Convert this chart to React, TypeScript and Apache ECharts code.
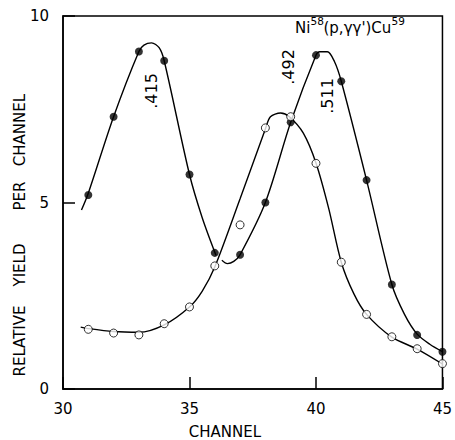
import React, { useEffect, useRef } from "react";
import * as echarts from "echarts";

// Measured points (channel, relative yield)
const filledPoints: [number, number][] = [
  [31, 5.2], [32, 7.3], [33, 9.05], [34, 8.8], [35, 5.75], [36, 3.65], [37, 3.6],
  [38, 5.0], [39, 7.15], [40, 8.95], [41, 8.25], [42, 5.6], [43, 2.8], [44, 1.45], [45, 1.0],
];
const openPoints: [number, number][] = [
  [31, 1.6], [32, 1.5], [33, 1.45], [34, 1.75], [35, 2.2], [36, 3.3], [37, 4.4],
  [38, 7.0], [39, 7.3], [40, 6.05], [41, 3.4], [42, 2.0], [43, 1.4], [44, 1.08], [45, 0.68],
];

// Hand-drawn fitted curves
const filledCurveA: [number, number][] = [
  [30.73, 4.8], [31, 5.25], [32, 7.3], [33, 9.05], [33.2, 9.22], [33.5, 9.28], [33.8, 9.15],
  [34, 8.8], [35, 5.75], [35.5, 4.6], [36.05, 3.58],
];
const filledCurveB: [number, number][] = [
  [36.28, 3.45], [36.5, 3.36], [36.75, 3.42], [37, 3.6], [38, 5.0], [39, 7.15], [40, 8.95],
  [40.15, 9.04], [40.45, 9.04], [40.73, 8.78], [41, 8.25], [42, 5.6], [43, 2.8], [43.5, 2.0],
  [44, 1.47], [44.5, 1.2], [45, 1.0],
];
const openCurve: [number, number][] = [
  [30.7, 1.66], [31, 1.62], [32, 1.54], [33, 1.52], [34, 1.72], [35, 2.2], [35.5, 2.62],
  [36, 3.27], [37, 5.1], [38, 6.97], [38.2, 7.3], [38.6, 7.4], [38.95, 7.3], [39.5, 6.86],
  [40, 6.06], [40.5, 4.85], [41, 3.4], [41.5, 2.55], [42, 2.0], [43, 1.39], [44, 1.07], [45, 0.67],
];

const xTicks = [30, 35, 40, 45];
const yTicks = [0, 5, 10];
const peakLabels = [".415", ".492", ".511"];
const yLabelWords = ["RELATIVE", "YIELD", "PER", "CHANNEL"];
const xLabel = "CHANNEL";

const FONT = "DejaVu Sans";

export default function App() {
  const ref = useRef<HTMLDivElement>(null);
  useEffect(() => {
    if (!ref.current) return;
    const chart = echarts.init(ref.current, null, { renderer: "svg" });
    const lineStyle = { color: "#000", width: 1.4 };
    const txt = (text: string, x: number, y: number, size: number, rot = 0, align = "center") => ({
      type: "text",
      x,
      y,
      rotation: rot,
      style: {
        text,
        fill: "#000",
        font: `${size}px "${FONT}"`,
        align,
        verticalAlign: "middle",
      },
    });
    const R = Math.PI / 2;
    chart.setOption({
      animation: false,
      backgroundColor: "#fff",
      grid: {
        left: 63,
        right: 10,
        top: 16,
        bottom: 51,
        show: true,
        borderColor: "#000",
        borderWidth: 1.5,
      },
      xAxis: {
        type: "value",
        min: xTicks[0],
        max: xTicks[xTicks.length - 1],
        interval: 5,
        axisLine: { lineStyle: { color: "#000", width: 1.5 } },
        axisTick: { inside: true, length: 12, lineStyle: { color: "#000", width: 1.5 } },
        axisLabel: { color: "#000", fontFamily: FONT, fontSize: 15, margin: 12 },
        splitLine: { show: false },
      },
      yAxis: {
        type: "value",
        min: yTicks[0],
        max: yTicks[yTicks.length - 1],
        interval: 5,
        axisLine: { lineStyle: { color: "#000", width: 1.5 } },
        axisTick: { inside: true, length: 12, lineStyle: { color: "#000", width: 1.5 } },
        axisLabel: { color: "#000", fontFamily: FONT, fontSize: 15, margin: 14 },
        splitLine: { show: false },
      },
      graphic: [
        txt(yLabelWords[0], 20, 341, 15, R),
        txt(yLabelWords[1], 20, 265, 15, R),
        txt(yLabelWords[2], 20, 196, 15, R),
        txt(yLabelWords[3], 20, 130, 15, R),
        txt(xLabel, 225, 432, 15),
        txt(peakLabels[0], 151, 91, 16, R),
        txt(peakLabels[1], 288, 67, 16, R),
        txt(peakLabels[2], 327, 96, 16, R),
        txt("Ni", 295, 28, 15, 0, "left"),
        txt("58", 310.5, 21, 10.5, 0, "left"),
        txt("(p,γγ')Cu", 323.5, 28, 15, 0, "left"),
        txt("59", 391.5, 21, 10.5, 0, "left"),
      ],
      series: [
        { type: "line", data: filledCurveA, smooth: 0.3, showSymbol: false, lineStyle, silent: true, z: 2 },
        { type: "line", data: filledCurveB, smooth: 0.3, showSymbol: false, lineStyle, silent: true, z: 2 },
        { type: "line", data: openCurve, smooth: 0.3, showSymbol: false, lineStyle, silent: true, z: 2 },
        {
          type: "scatter",
          data: filledPoints,
          symbol: "circle",
          symbolSize: 8,
          itemStyle: { color: "#000" },
          z: 5,
        },
        {
          type: "scatter",
          data: openPoints,
          symbol: "circle",
          symbolSize: 8,
          itemStyle: { color: "#fff", borderColor: "#000", borderWidth: 1 },
          z: 5,
        },
      ],
    });
    return () => chart.dispose();
  }, []);
  return (
    <div
      ref={ref}
      style={{ position: "fixed", left: 0, top: 0, width: 455, height: 440, overflow: "visible" }}
    />
  );
}
